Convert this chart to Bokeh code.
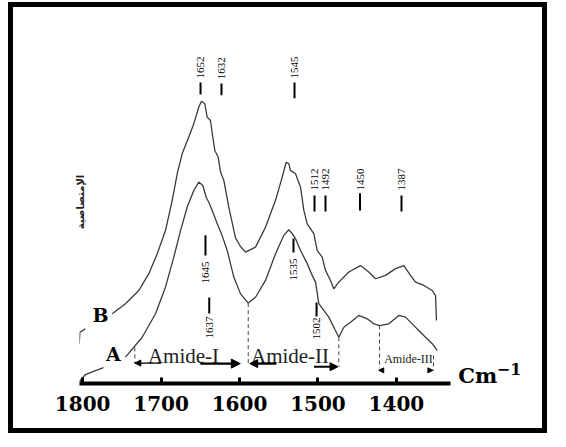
import math
from bokeh.plotting import figure
from bokeh.models import Range1d, FixedTicker, Arrow, NormalHead
from bokeh.core.properties import value
from bokeh.embed import file_html
from bokeh.resources import INLINE

nan = float("nan")

# Spectrum B (upper curve): wavenumber (cm-1) and absorbance (arbitrary units)
wn_B = [1804.4, 1803.5, 1796.6, nan, 1762.3, 1745.4, 1728.4, 1715.6, 1704.9, 1694.4,
        1685.8, 1679.4, 1673.1, 1664.7, 1658.3, 1651.9, 1648.5, 1644.3, 1641.2, 1637,
        1634.1, 1631.5, 1627.2, 1624.2, 1620, 1613.7, 1605.1, 1599, 1592.4, 1579.6,
        1566.9, 1554.1, 1545.6, 1540.5, 1537.2, 1535, 1528.6, 1522.2, 1518, 1513.7,
        1505.3, 1501, 1494.6, 1490.4, 1484, 1479.8, 1473.4, 1460.7, 1445.8, 1435.2,
        1426.6, 1413.9, 1401.1, 1390.5, 1382, 1375.6, 1365, 1354.3, 1350.1, 1348.9]
abs_B = [0.142, 0.183, 0.195, nan, 0.249, 0.285, 0.332, 0.392, 0.463, 0.546,
         0.654, 0.749, 0.820, 0.880, 0.927, 0.987, 1.008, 0.999, 0.951, 0.939,
         0.880, 0.832, 0.808, 0.755, 0.725, 0.630, 0.520, 0.490, 0.469, 0.487,
         0.558, 0.654, 0.737, 0.790, 0.785, 0.761, 0.749, 0.701, 0.618, 0.570,
         0.535, 0.475, 0.451, 0.404, 0.368, 0.338, 0.362, 0.398, 0.421, 0.398,
         0.374, 0.386, 0.410, 0.421, 0.386, 0.362, 0.350, 0.332, 0.314, 0.225]

# Spectrum A (lower curve)
wn_A = [1804, 1796.4, 1783.6, 1773.4, nan, 1745.4, 1724.1, 1707.1, 1694.4, 1683.8,
        1675.2, 1666.7, 1658.3, 1651.9, 1646.8, 1642.5, 1638.3, 1634.1, 1628.4, 1623,
        1615.7, 1607.3, 1598.7, 1588.9, 1579.6, 1566.9, 1554.1, 1543.5, 1537.2, 1532.8,
        1528.6, 1522.2, 1513.7, 1507.3, 1503.1, 1498.9, 1492.5, 1486.2, 1479.8, 1473.4,
        1467, 1458.5, 1447.9, 1437.2, 1428.8, 1421.5, 1409.7, 1396.9, 1388.4, 1379.8,
        1367.1, 1354.3, 1348]
abs_A = [0.007, 0.032, 0.046, 0.057, nan, 0.094, 0.165, 0.249, 0.344, 0.451,
         0.546, 0.630, 0.689, 0.719, 0.707, 0.665, 0.642, 0.612, 0.570, 0.535,
         0.475, 0.380, 0.320, 0.287, 0.308, 0.368, 0.463, 0.529, 0.549, 0.535,
         0.517, 0.475, 0.428, 0.386, 0.362, 0.285, 0.261, 0.237, 0.201, 0.165,
         0.201, 0.219, 0.243, 0.231, 0.213, 0.207, 0.213, 0.243, 0.237, 0.213,
         0.177, 0.142, 0.118]

# Peak annotations
peak_text = ["1652", "1632", "1545", "1512", "1492", "1450", "1387", "1645", "1637", "1535", "1502"]
peak_x = [1649.7, 1623, 1529.9, 1504.4, 1490.4, 1446.4, 1393.5, 1643.4, 1638.6, 1531.2, 1501.8]
peak_text_y = [1.089, 1.086, 1.089, 0.689, 0.689, 0.689, 0.689, 0.357, 0.161, 0.368, 0.157]
peak_bar_y0 = [1.075, 1.071, 1.075, 0.671, 0.671, 0.679, 0.671, 0.529, 0.307, 0.518, 0.289]
peak_bar_y1 = [1.032, 1.029, 1.018, 0.614, 0.614, 0.618, 0.614, 0.457, 0.250, 0.468, 0.239]

# Region boundaries (dashed)
bound_x = [1733.5, 1588.9, 1473.4, 1421.5, 1352.7]
bound_y0 = [0.129, 0.287, 0.165, 0.207, 0.100]
bound_y1 = [0.071, 0.071, 0.060, 0.054, 0.046]

region_text = ["Amide-I", "Amide-II"]
region_x = [1671.4, 1535.6]

x_ticks = [1800, 1700, 1600, 1500, 1400]

p = figure(width=539, height=431, output_backend="svg", toolbar_location=None,
           x_range=Range1d(1804, 1216.3), y_range=Range1d(0, 1.296),
           min_border_left=66, min_border_right=12, min_border_top=13, min_border_bottom=55)
p.styles = {"border": "5px solid black", "margin-left": "8px", "margin-top": "2px"}
p.outline_line_color = None
p.xgrid.visible = False
p.ygrid.visible = False
p.background_fill_color = "white"
p.border_fill_color = "white"

xa = p.xaxis[0]
xa.ticker = FixedTicker(ticks=x_ticks)
xa.bounds = (1331, 1804)
xa.axis_line_width = 4
xa.axis_line_color = "black"
xa.major_tick_in = 6
xa.major_tick_out = 0
xa.major_tick_line_width = 3
xa.major_tick_line_color = "black"
xa.minor_tick_line_color = None
xa.major_label_standoff = 12
xa.major_label_text_font = "DejaVu Serif"
xa.major_label_text_font_style = "bold"
xa.major_label_text_font_size = "20px"
xa.major_label_text_color = "black"

ya = p.yaxis[0]
ya.ticker = FixedTicker(ticks=[])
ya.axis_line_color = None
ya.major_tick_line_color = None
ya.minor_tick_line_color = None
ya.axis_label = "الإمتصاصية"
ya.axis_label_text_font = "DejaVu Sans"
ya.axis_label_text_font_style = "bold"
ya.axis_label_text_font_size = "10px"
ya.axis_label_text_color = "#222222"
ya.axis_label_standoff = -6

curve_color = "#3a3a3a"
p.line(wn_B, abs_B, line_color=curve_color, line_width=1.3)
p.line(wn_A, abs_A, line_color=curve_color, line_width=1.3)

p.segment(x0=peak_x, y0=peak_bar_y0, x1=peak_x, y1=peak_bar_y1, line_color="black", line_width=2)
p.text(x=peak_x, y=peak_text_y, text=peak_text, angle=math.pi / 2,
       text_align="left", text_baseline="middle", text_color="black",
       text_font=value("Liberation Serif"), text_font_size="11px")

p.segment(x0=bound_x, y0=bound_y0, x1=bound_x, y1=bound_y1, line_color="#444444",
          line_width=1, line_dash="4 3")

def arrow(x0, x1, y, w, size):
    p.add_layout(Arrow(x_start=x0, y_start=y, x_end=x1, y_end=y, line_width=w, line_color="black",
                       end=NormalHead(size=size, fill_color="black", line_color="black")))

arrow(1700, 1733.5, 0.073, 1.2, 6)
arrow(1650, 1599, 0.071, 2.2, 9)
arrow(1553, 1587, 0.071, 2.2, 8)
arrow(1505, 1474.4, 0.060, 2.0, 8)
arrow(1416, 1422.5, 0.047, 1.0, 5)
arrow(1360, 1353.5, 0.047, 1.0, 5)

p.text(x=region_x, y=[0.098, 0.097], text=region_text,
       text_align="center", text_baseline="middle", text_color="#222222",
       text_font=value("Liberation Serif"), text_font_size="21px")
p.text(x=[1384.6], y=[0.089], text=["Amide-III"], text_align="center", text_baseline="middle",
       text_color="#222222", text_font=value("Liberation Serif"), text_font_size="12px")

p.text(x=[1777.2, 1760.7], y=[0.243, 0.104], text=["B", "A"], text_align="center",
       text_baseline="middle", text_color="black", text_font=value("DejaVu Serif"),
       text_font_style="bold", text_font_size="19px")

p.text(x=[1321], y=[0.027], text=["Cm"], text_align="left", text_baseline="middle",
       text_color="black", text_font=value("DejaVu Serif"), text_font_style="bold",
       text_font_size="21px")
p.text(x=[1272], y=[0.052], text=["−1"], text_align="left", text_baseline="middle",
       text_color="black", text_font=value("DejaVu Serif"), text_font_style="bold",
       text_font_size="16px")

open("out.html", "w").write(file_html(p, INLINE))
